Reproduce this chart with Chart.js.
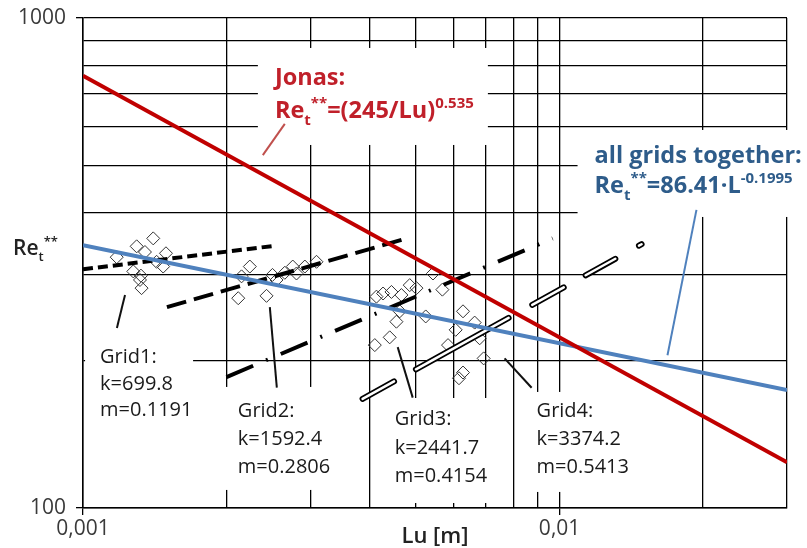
<!DOCTYPE html>
<html>
<head>
<meta charset="utf-8">
<script src="https://cdn.jsdelivr.net/npm/chart.js@4.4.1/dist/chart.umd.min.js"></script>
<style>
  html, body { margin: 0; padding: 0; background: #fff; }
  #wrap { width: 807px; height: 548px; }
</style>
</head>
<body>
<div id="wrap"><canvas id="reChart" width="807" height="548"></canvas></div>
<script>
// grid positions and tick labels (only the decades carry text)
const xGridValues = [0.001, 0.002, 0.003, 0.004, 0.005, 0.006, 0.007, 0.008, 0.009, 0.01, 0.02, 0.03];
const yGridValues = [100, 200, 300, 400, 500, 600, 700, 800, 900, 1000];
const xTickValues = [0.001, 0.01];
const xTickTexts = ['0,001', '0,01'];
const yTickValues = [100, 1000];
const yTickTexts = ['100', '1000'];

const grid1Lu = [0.001177, 0.001296, 0.001404, 0.001349, 0.001493, 0.001427, 0.001473, 0.001275, 0.001323, 0.001317, 0.001327];
const grid1Re = [325, 342, 355, 333, 331, 318, 311, 304, 298, 292, 281];
const grid2Lu = [0.002117, 0.002151, 0.002239, 0.002427, 0.002547, 0.002498, 0.002651, 0.002755, 0.002805, 0.002921, 0.00309];
const grid2Re = [268, 297, 311, 271, 292, 299, 302, 311, 301, 311, 318];
const grid3Lu = [0.004128, 0.004262, 0.004438, 0.004657, 0.004848, 0.005008, 0.005424, 0.005676, 0.004619, 0.004546, 0.005237, 0.004401, 0.004095];
const grid3Re = [270, 274, 276, 272, 285, 281, 301, 279, 252, 240, 246, 223, 215];
const grid4Lu = [0.006271, 0.006634, 0.006053, 0.005833, 0.006797, 0.006929, 0.006271, 0.00615];
const grid4Re = [252, 239, 231, 215, 222, 202, 189, 184];

// fitted lines (end points)
const grid1FitLu = [0.001, 0.00253];
const grid1FitRe = [307, 343];
const grid2FitLu = [0.0015, 0.00473];
const grid2FitRe = [257, 354];
const grid3FitLu = [0.002, 0.00967];
const grid3FitRe = [185, 355];
const grid4FitLu = [0.00386, 0.01507];
const grid4FitRe = [167, 348];
const jonasLu = [0.001, 0.03];
const jonasRe = [762, 124];
const allLu = [0.001, 0.03];
const allRe = [344, 174];

// leader lines from the labels to the curves
const jonasLeaderLu = [0.002384, 0.002651];
const jonasLeaderRe = [525, 608];
const allLeaderLu = [0.01937, 0.01684];
const allLeaderRe = [406, 205];
const grid1LeaderLu = [0.001178, 0.001225];
const grid1LeaderRe = [233, 272];
const grid2LeaderLu = [0.002466, 0.002551];
const grid2LeaderRe = [257, 176];
const grid3LeaderLu = [0.004574, 0.004918];
const grid3LeaderRe = [213, 168];
const grid4LeaderLu = [0.007666, 0.008736];
const grid4LeaderRe = [202, 176];

const FONT = '"Open Sans", "Liberation Sans", sans-serif';
const RED = '#C00000';
const BLUE = '#4F81BD';

const pts = (xs, ys) => xs.map((x, i) => ({ x: x, y: ys[i] }));
const matchTick = (v, vals) => vals.findIndex(t => Math.abs(v / t - 1) < 1e-6);

function diamonds(xs, ys) {
  return {
    data: pts(xs, ys),
    pointStyle: 'rectRot',
    pointRadius: 6.5,
    pointBorderColor: '#333',
    pointBackgroundColor: 'rgba(0,0,0,0)',
    pointBorderWidth: 1,
    showLine: false,
    order: 10
  };
}

function fitLine(xs, ys, color, width, dash, order, cap) {
  return {
    data: pts(xs, ys),
    showLine: true,
    borderColor: color,
    borderWidth: width,
    borderDash: dash || [],
    borderCapStyle: cap || 'butt',
    pointRadius: 0,
    fill: false,
    order: order
  };
}

// labels: anchor (left, first baseline) in data coords, box offsets in px
const labels = [
  { lu: 0.002527, re: 730, gap: 33, size: 23.5, weight: 'bold', color: '#C0202A', box: [-17, -37, 213, 60],
    lines: [[{ t: 'Jonas:' }], [{ t: 'Re' }, { t: 't', sub: true }, { t: '**', sup: true }, { t: '=(245/Lu)' }, { t: '0.535', sup: true }]] },
  { lu: 0.01184, re: 506, gap: 30, size: 23.5, weight: 'bold', color: '#2E5C8A', box: [-17, -33, 212, 54],
    lines: [[{ t: 'all grids together:' }], [{ t: 'Re' }, { t: 't', sub: true }, { t: '**', sup: true }, { t: '=86.41\u00b7L' }, { t: '-0.1995', sup: true }]] },
  { lu: 0.001086, re: 197.6, gap: 26.5, size: 20, weight: 'normal', color: '#1a1a1a', box: [-15, -28, 93, 67],
    lines: [[{ t: 'Grid1:' }], [{ t: 'k=699.8' }], [{ t: 'm=0.1191' }]] },
  { lu: 0.002113, re: 153.4, gap: 28, size: 20, weight: 'normal', color: '#1a1a1a', box: [-16, -30, 107, 73],
    lines: [[{ t: 'Grid2:' }], [{ t: 'k=1592.4' }], [{ t: 'm=0.2806' }]] },
  { lu: 0.004509, re: 147.7, gap: 28.5, size: 20, weight: 'normal', color: '#1a1a1a', box: [-20, -27, 117, 78],
    lines: [[{ t: 'Grid3:' }], [{ t: 'k=2441.7' }], [{ t: 'm=0.4154' }]] },
  { lu: 0.008948, re: 153.4, gap: 28, size: 20, weight: 'normal', color: '#1a1a1a', box: [-15, -25, 115, 75],
    lines: [[{ t: 'Grid4:' }], [{ t: 'k=3374.2' }], [{ t: 'm=0.5413' }]] }
];

function drawRich(ctx, parts, x, y, size, weight) {
  let cx = x;
  parts.forEach(p => {
    const small = p.sub || p.sup;
    const s = small ? Math.round(size * 0.62) : size;
    ctx.font = weight + ' ' + s + 'px ' + FONT;
    const dy = p.sub ? size * 0.28 : p.sup ? -size * 0.42 : 0;
    ctx.fillText(p.t, cx, y + dy);
    cx += ctx.measureText(p.t).width;
  });
  return cx - x;
}

const labelPlugin = {
  id: 'labelPlugin',
  beforeDatasetsDraw(chart) {
    const ctx = chart.ctx;
    const xs = chart.scales.x, ys = chart.scales.y;
    ctx.save();
    ctx.fillStyle = '#fff';
    labels.forEach(l => {
      const ax = xs.getPixelForValue(l.lu), ay = ys.getPixelForValue(l.re);
      ctx.fillRect(ax + l.box[0], ay + l.box[1], l.box[2] - l.box[0], l.box[3] - l.box[1]);
    });
    ctx.restore();
  },
  afterDatasetsDraw(chart) {
    const ctx = chart.ctx;
    const xs = chart.scales.x, ys = chart.scales.y;
    const area = chart.chartArea;
    ctx.save();
    ctx.textBaseline = 'alphabetic';
    ctx.textAlign = 'left';
    labels.forEach(l => {
      const ax = xs.getPixelForValue(l.lu), ay = ys.getPixelForValue(l.re);
      ctx.fillStyle = l.color;
      l.lines.forEach((parts, i) => drawRich(ctx, parts, ax, ay + i * l.gap, l.size, l.weight));
    });
    // axis titles
    ctx.fillStyle = '#222';
    drawRich(ctx, [{ t: 'Re' }, { t: 't', sub: true }, { t: '**', sup: true }], area.left - 70, area.top + 237, 21, '600');
    ctx.font = '600 22px ' + FONT;
    ctx.textAlign = 'center';
    ctx.fillText('Lu [m]', (area.left + area.right) / 2, area.bottom + 35);
    ctx.restore();
  }
};

const tickFont = { family: FONT, size: 21 };

new Chart(document.getElementById('reChart'), {
  type: 'scatter',
  data: {
    datasets: [
      diamonds(grid1Lu, grid1Re),
      diamonds(grid2Lu, grid2Re),
      diamonds(grid3Lu, grid3Re),
      diamonds(grid4Lu, grid4Re),
      fitLine(grid1FitLu, grid1FitRe, '#000', 4, [10, 5], 5),
      fitLine(grid2FitLu, grid2FitRe, '#000', 4, [20, 8], 5),
      fitLine(grid3FitLu, grid3FitRe, '#000', 4, [29, 14, 2, 14], 5),
      fitLine(grid4FitLu, grid4FitRe, '#000', 6, [36, 25, 106, 27, 36, 25, 34, 27, 3, 40], 7, 'round'),
      fitLine(grid4FitLu, grid4FitRe, '#fff', 2.5, [36, 25, 106, 27, 36, 25, 34, 27, 3, 40], 6, 'round'),
      fitLine(allLu, allRe, BLUE, 4, null, 3),
      fitLine(jonasLu, jonasRe, RED, 4, null, 2),
      fitLine(jonasLeaderLu, jonasLeaderRe, '#C0504D', 2, null, 1),
      fitLine(allLeaderLu, allLeaderRe, BLUE, 2, null, 1),
      fitLine(grid1LeaderLu, grid1LeaderRe, '#111', 2, null, 1),
      fitLine(grid2LeaderLu, grid2LeaderRe, '#111', 2, null, 1),
      fitLine(grid3LeaderLu, grid3LeaderRe, '#111', 2, null, 1),
      fitLine(grid4LeaderLu, grid4LeaderRe, '#111', 2, null, 1)
    ]
  },
  options: {
    responsive: false,
    animation: false,
    layout: { padding: { top: 18, right: 20, left: 0, bottom: 0 } },
    plugins: { legend: { display: false }, tooltip: { enabled: false } },
    scales: {
      x: {
        type: 'logarithmic',
        min: 0.001,
        max: 0.03,
        afterBuildTicks: s => { s.ticks = xGridValues.map(v => ({ value: v })); },
        afterFit: s => { s.height = 40; s.paddingLeft = 0; s.paddingRight = 0; },
        border: { color: '#000', width: 1.5 },
        grid: {
          color: '#000',
          lineWidth: 1.3,
          tickLength: 7,
          tickColor: c => (c.tick && matchTick(c.tick.value, xTickValues) >= 0 ? '#000' : 'rgba(0,0,0,0)')
        },
        ticks: {
          autoSkip: false,
          maxRotation: 0,
          padding: 1,
          color: '#3a3a3a',
          font: tickFont,
          callback: v => { const i = matchTick(v, xTickValues); return i >= 0 ? xTickTexts[i] : ''; }
        }
      },
      y: {
        type: 'logarithmic',
        min: 100,
        max: 1000,
        afterBuildTicks: s => { s.ticks = yGridValues.map(v => ({ value: v })); },
        afterFit: s => { s.width = 83; s.paddingTop = 0; s.paddingBottom = 0; },
        border: { color: '#000', width: 1.5 },
        grid: {
          color: '#000',
          lineWidth: 1.3,
          tickLength: 7,
          tickColor: c => (c.tick && matchTick(c.tick.value, yTickValues) >= 0 ? '#000' : 'rgba(0,0,0,0)')
        },
        ticks: {
          autoSkip: false,
          padding: 10,
          color: '#3a3a3a',
          font: tickFont,
          callback: v => { const i = matchTick(v, yTickValues); return i >= 0 ? yTickTexts[i] : ''; }
        }
      }
    }
  },
  plugins: [labelPlugin]
});
</script>
</body>
</html>
